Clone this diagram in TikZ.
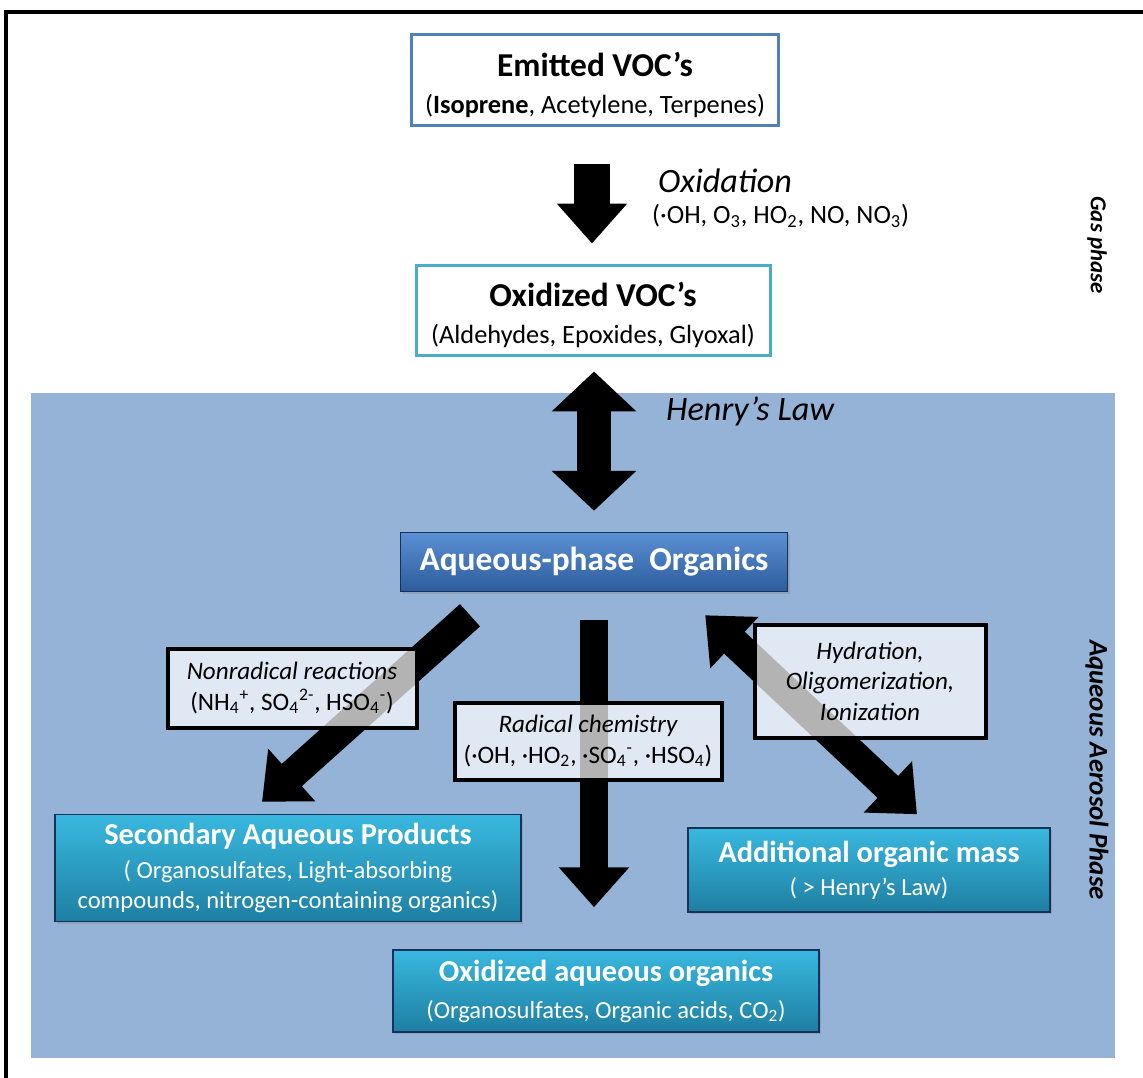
\documentclass[tikz,border=0pt]{standalone}
\usepackage{fontspec}
\setmainfont{Carlito}
\usepackage{tikz}
\usetikzlibrary{arrows.meta,calc,shadows}
\definecolor{AqBg}{HTML}{95B3D7}
\definecolor{EmitEdge}{HTML}{4F81BD}
\definecolor{OxEdge}{HTML}{4BACC6}
\definecolor{AqTop}{HTML}{5B90D4}
\definecolor{AqBot}{HTML}{2C5C9C}
\definecolor{TealTop}{HTML}{39B8DF}
\definecolor{TealBot}{HTML}{1E7FA2}
\definecolor{DeepEdge}{HTML}{17325A}
\newlength\pxu \setlength\pxu{0.02cm}
\newcommand\ttlfont{\fontsize{19}{22}\selectfont\bfseries}
\newcommand\subfont{\fontsize{15}{18}\selectfont}
\newcommand\aqttlfont{\fontsize{17.3}{20}\selectfont\bfseries}
\newcommand\aqsubfont{\fontsize{14}{17}\selectfont}
\newcommand\tagfont{\fontsize{14.3}{17.3}\selectfont}
\newcommand\topstrut{\rule{0pt}{20pt}}

\begin{document}
\begin{tikzpicture}[x=0.02cm,y=-0.02cm,
  gasbox/.style={draw,line width=3\pxu,fill=white,align=center,inner sep=0pt,font=\subfont},
  aqbox/.style={draw=DeepEdge,line width=1.5\pxu,top color=#1Top,bottom color=#1Bot,
    text=white,align=center,inner sep=0pt,font=\aqsubfont,
    drop shadow={opacity=0.35,shadow xshift=2\pxu,shadow yshift=-2\pxu}},
  tagbox/.style={draw=black,line width=4\pxu,fill=white,fill opacity=0.7,text opacity=1,
    align=center,inner sep=0pt,font=\tagfont},
  blockarrow/.style={line width=#1\pxu,-{Triangle[length=0.8cm,width=1.36cm]}},
  twinarrow/.style={line width=34\pxu,{Triangle[length=0.8cm,width=1.65cm]}-{Triangle[length=0.8cm,width=1.65cm]}}]
  \useasboundingbox (0,0) rectangle (1143,1078);
  % frame and aqueous region
  \draw[line width=4\pxu] (6,1078) -- (6,12) -- (1143,12);
  \fill[AqBg] (31,393) rectangle (1115,1058);
  % gas phase
  \node[gasbox,draw=EmitEdge,minimum width=367\pxu,minimum height=91\pxu] (emit) at (595,80)
    {{\topstrut\ttlfont Emitted VOC’s}\\[3pt](\textbf{Isoprene}, Acetylene, Terpenes)};
  \node[gasbox,draw=OxEdge,minimum width=354\pxu,minimum height=90\pxu] (oxvoc) at (593,310)
    {{\topstrut\ttlfont Oxidized VOC’s}\\[3pt](Aldehydes, Epoxides, Glyoxal)};
  \node[anchor=west,font=\fontsize{19.4}{22}\selectfont\itshape] (oxlbl) at (652,181) {Oxidation};
  \node[anchor=west,font=\subfont] (oxagents) at (646,216)
    {(·OH, O\textsubscript{3}, HO\textsubscript{2}, NO, NO\textsubscript{3})};
  \node[anchor=west,font=\fontsize{19.5}{22}\selectfont\itshape] (henry) at (660,411) {Henry’s Law};
  \node[rotate=-90,font=\fontsize{13}{15}\selectfont\bfseries\itshape] (gasph) at (1097,245) {Gas phase};
  \node[rotate=-90,font=\fontsize{15.3}{18}\selectfont\bfseries\itshape] (aqph) at (1097,770) {Aqueous Aerosol Phase};
  % aqueous phase
  \node[aqbox=Aq,minimum width=387\pxu,minimum height=59\pxu] (aqorg) at (594,562)
    {\ttlfont Aqueous-phase\ \ Organics};
  \node[aqbox=Teal,minimum width=466\pxu,minimum height=107\pxu] (sec) at (288,868)
    {{\aqttlfont Secondary Aqueous Products}\\[2pt]( Organosulfates, Light-absorbing\\compounds, nitrogen-containing organics)};
  \node[aqbox=Teal,minimum width=362\pxu,minimum height=84\pxu] (addl) at (869,870)
    {{\aqttlfont Additional organic mass}\\[2pt]( > Henry’s Law)};
  \node[aqbox=Teal,minimum width=426\pxu,minimum height=82\pxu] (oxaq) at (606,991)
    {{\aqttlfont Oxidized aqueous organics}\\[4pt](Organosulfates, Organic acids, CO\textsubscript{2})};
  % arrows
  \draw[blockarrow=36] ($(emit.south)+(-3,37)$) -- ($(oxvoc.north)+(-1,-20)$);
  \draw[twinarrow] ($(oxvoc.south)+(1,15)$) -- ($(aqorg.north)+(0,-21)$);
  \draw[blockarrow=30] ($(aqorg.south)+(-124,23)$) -- ($(sec.north)+(-26,-12)$);
  \draw[blockarrow=28] ($(aqorg.south)+(0,28)$) -- ($(oxaq.north)+(-12,-42)$);
  \draw[line width=30\pxu,{Triangle[length=0.8cm,width=1.36cm]}-{Triangle[length=0.8cm,width=1.36cm]}]
    ($(aqorg.south east)+(-83,23)$) -- ($(addl.north)+(48,-13)$);
  % reaction labels
  \node[tagbox,minimum width=249\pxu,minimum height=79\pxu] (nonrad) at (292,688)
    {{\itshape Nonradical reactions}\\(NH\textsubscript{4}\textsuperscript{+}, SO\textsubscript{4}\textsuperscript{2-}, HSO\textsubscript{4}\textsuperscript{-})};
  \node[tagbox,minimum width=267\pxu,minimum height=77\pxu] (radical) at (588,741)
    {{\itshape Radical chemistry}\\(·OH, ·HO\textsubscript{2}, ·SO\textsubscript{4}\textsuperscript{-}, ·HSO\textsubscript{4})};
  \node[tagbox,minimum width=231\pxu,minimum height=113\pxu,font=\tagfont\itshape] (hydr) at (870,681)
    {Hydration,\\Oligomerization,\\Ionization};
\end{tikzpicture}
\end{document}
